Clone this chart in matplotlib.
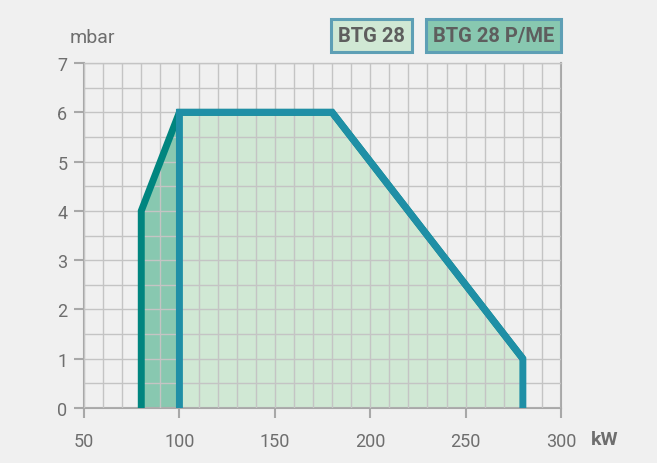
import numpy as np
import matplotlib.pyplot as plt

plt.rcParams['font.family'] = ['Roboto', 'DejaVu Sans']

# BTG 28 P/ME working range (kW, mbar)
pme_kw = [80, 80, 100, 180, 280, 280]
pme_mbar = [0, 4, 6, 6, 1, 0]

# BTG 28 working range
btg_kw = [100, 100, 180, 280, 280]
btg_mbar = [0, 6, 6, 1, 0]

x_ticks = [50, 100, 150, 200, 250, 300]
y_ticks = [0, 1, 2, 3, 4, 5, 6, 7]

bg = '#f0f0f0'
grid_c = '#c4c4c4'
axis_c = '#a8a8a8'
text_c = '#6e6e6e'

fig = plt.figure(figsize=(6.57, 4.64), dpi=100, facecolor=bg)
ax = fig.add_axes([0.1279, 0.1185, 0.8539 - 0.1279, 0.862 - 0.1185])
ax.set_facecolor(bg)

ax.fill(pme_kw, pme_mbar, color='#88c8b0', lw=0, zorder=1)
ax.fill(btg_kw, btg_mbar, color='#d0e8d4', lw=0, zorder=1.5)

# grid over the fills
ax.set_xticks(np.arange(50, 301, 10), minor=True)
ax.set_yticks(np.arange(0, 7.01, 0.5), minor=True)
ax.grid(which='both', color=grid_c, lw=1, zorder=2)
ax.set_axisbelow(False)

ax.plot(pme_kw[:-1], pme_mbar[:-1], color='#00857f', lw=5,
        solid_joinstyle='miter', solid_capstyle='butt', zorder=3)
ax.plot(btg_kw, btg_mbar, color='#1f8fa6', lw=5,
        solid_joinstyle='miter', solid_capstyle='butt', zorder=4)

ax.set_xlim(50, 300)
ax.set_ylim(0, 7)
ax.set_xticks(x_ticks)
ax.set_yticks(y_ticks)
ax.tick_params(which='major', length=7, width=1.5, color=axis_c,
               labelcolor=text_c, labelsize=13, pad=5)
ax.tick_params(which='minor', length=0)
ax.tick_params(axis='x', pad=10)
for s in ax.spines.values():
    s.set_color(grid_c)
    s.set_linewidth(1)
for side in ['left', 'bottom', 'right']:
    ax.spines[side].set_color(axis_c)
    ax.spines[side].set_linewidth(1.5)

fig.text(0.106, 0.918, 'mbar', color=text_c, fontsize=14, ha='left', va='center')
fig.text(0.899, 0.052, 'kW', color=text_c, fontsize=14, fontweight='bold',
         ha='left', va='center')

fig.text(0.5654, 0.921, 'BTG 28', color='#5e5e5e', fontsize=14.5, fontweight='bold',
         ha='center', va='center',
         bbox=dict(boxstyle='square,pad=0.35', fc='#d0e8d4', ec='#5e9fb5', lw=2.2))
fig.text(0.7511, 0.921, 'BTG 28 P/ME', color='#5e5e5e', fontsize=14.5, fontweight='bold',
         ha='center', va='center',
         bbox=dict(boxstyle='square,pad=0.35', fc='#88c8b0', ec='#5e9fb5', lw=2.2))

fig.savefig('out.png', dpi=100, facecolor=bg)
